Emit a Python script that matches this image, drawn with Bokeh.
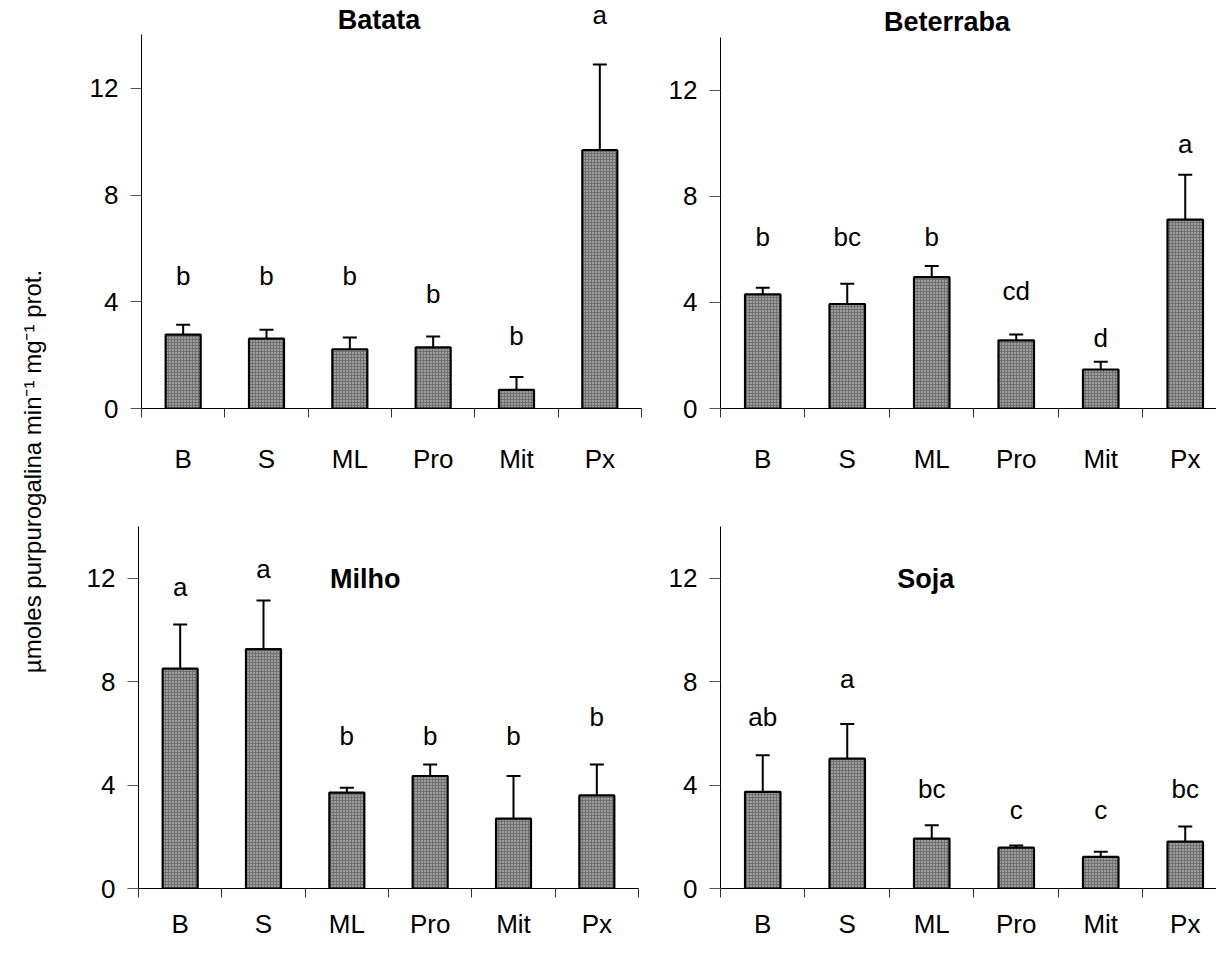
from bokeh.plotting import figure
from bokeh.models import (ColumnDataSource, Range1d, FixedTicker, Whisker, TeeHead, Label)
from bokeh.layouts import row, column
from bokeh.core.properties import value
from bokeh.embed import file_html
from bokeh.resources import INLINE

# ---------------- data ----------------
categories = ["B", "S", "ML", "Pro", "Mit", "Px"]
y_ticks = [0, 4, 8, 12]
y_label = "\u00b5moles purpurogalina min\u207b\u00b9 mg\u207b\u00b9 prot."

batata_mean = [2.77, 2.62, 2.22, 2.29, 0.70, 9.68]
batata_err = [0.37, 0.33, 0.44, 0.41, 0.48, 3.21]
batata_letters = ["b", "b", "b", "b", "b", "a"]
batata_letter_y = [4.95, 4.95, 4.95, 4.28, 2.73, 14.73]

beterraba_mean = [4.30, 3.94, 4.95, 2.57, 1.47, 7.12]
beterraba_err = [0.25, 0.76, 0.42, 0.22, 0.29, 1.69]
beterraba_letters = ["b", "bc", "b", "cd", "d", "a"]
beterraba_letter_y = [6.46, 6.46, 6.46, 4.44, 2.64, 9.98]

milho_mean = [8.50, 9.26, 3.71, 4.35, 2.70, 3.60]
milho_err = [1.71, 1.88, 0.19, 0.45, 1.65, 1.20]
milho_letters = ["a", "a", "b", "b", "b", "b"]
milho_letter_y = [11.66, 12.37, 5.89, 5.89, 5.89, 6.64]

soja_mean = [3.74, 5.02, 1.93, 1.58, 1.22, 1.81]
soja_err = [1.41, 1.34, 0.52, 0.08, 0.20, 0.59]
soja_letters = ["ab", "a", "bc", "c", "c", "bc"]
soja_letter_y = [6.63, 8.10, 3.84, 3.03, 3.03, 3.84]

FONT = "Liberation Sans"
TICK_SIZE = "26px"


def panel(title, means, errs, letters, letter_y, title_pos, width, height,
          borders, x_end, y_end, label_standoff):
    left, right, top, bottom = borders
    p = figure(width=width, height=height,
               x_range=Range1d(0, x_end), y_range=Range1d(0, y_end),
               output_backend="svg", toolbar_location=None,
               min_border_left=left, min_border_right=right,
               min_border_top=top, min_border_bottom=bottom)
    p.grid.visible = False
    p.outline_line_color = None
    p.background_fill_color = "white"
    p.border_fill_color = "white"

    xs = [i + 0.5 for i in range(len(categories))]
    src = ColumnDataSource(dict(
        x=xs, top=means,
        upper=[m + e for m, e in zip(means, errs)],
        letter=letters, ly=letter_y))

    w = Whisker(base="x", lower="top", upper="upper", source=src,
                lower_head=None,
                upper_head=TeeHead(size=14, line_width=2, line_color="black"),
                line_width=2, line_color="black")
    p.add_layout(w)

    p.vbar(x="x", top="top", bottom=0, width=0.42, source=src,
           fill_color="#707070", line_color="black", line_width=2.2,
           hatch_pattern="dot", hatch_color="#e0e0e0", hatch_scale=3,
           hatch_weight=1)

    p.text(x="x", y="ly", text="letter", source=src,
           text_align="center", text_baseline="middle",
           text_font=value(FONT), text_font_size=TICK_SIZE, text_color="black")

    p.add_layout(Label(x=title_pos[0], y=title_pos[1], text=title,
                       text_align="center", text_baseline="middle",
                       text_font=FONT, text_font_style="bold",
                       text_font_size="27px", text_color="black"))

    # y axis
    ya = p.yaxis[0]
    ya.ticker = FixedTicker(ticks=y_ticks)
    ya.bounds = (0, 14)
    ya.axis_line_color = "black"
    ya.axis_line_width = 1
    ya.major_tick_out = 11
    ya.major_tick_in = 0
    ya.major_tick_line_color = "#555555"
    ya.minor_tick_line_color = None
    ya.major_label_standoff = 12
    ya.major_label_text_font = FONT
    ya.major_label_text_font_size = TICK_SIZE
    ya.major_label_text_color = "black"

    # x axis: labels at category centres, ticks at category boundaries
    xa = p.xaxis[0]
    xa.ticker = FixedTicker(ticks=xs, minor_ticks=list(range(len(categories) + 1)))
    xa.major_label_overrides = {x: c for x, c in zip(xs, categories)}
    xa.axis_line_color = "black"
    xa.axis_line_width = 1
    xa.major_tick_out = 0
    xa.major_tick_in = 0
    xa.minor_tick_out = 9
    xa.minor_tick_in = 0
    xa.minor_tick_line_color = "#333333"
    xa.major_label_standoff = label_standoff
    xa.major_label_text_font = FONT
    xa.major_label_text_font_size = TICK_SIZE
    xa.major_label_text_color = "black"
    return p


# row 1 (height 476), row 2 (height 465); label column 60 px wide
tl = panel("Batata", batata_mean, batata_err, batata_letters, batata_letter_y,
           (2.85, 14.55), 605, 476, (81, 24, 0, 62), 6, 15.29, 26)
tr = panel("Beterraba", beterraba_mean, beterraba_err, beterraba_letters,
           beterraba_letter_y, (2.68, 14.57), 551, 476, (53, 0, 0, 57),
           5.87, 15.38, 26)
bl = panel("Milho", milho_mean, milho_err, milho_letters, milho_letter_y,
           (2.72, 11.96), 605, 465, (78, 27, 50, 42), 6, 14, 11)
br = panel("Soja", soja_mean, soja_err, soja_letters, soja_letter_y,
           (2.43, 11.96), 551, 465, (55, 0, 50, 42), 5.87, 14, 11)

lab = figure(width=60, height=941, x_range=Range1d(0, 60), y_range=Range1d(0, 941),
             x_axis_type=None, y_axis_type=None, output_backend="svg",
             toolbar_location=None, min_border=0)
lab.grid.visible = False
lab.outline_line_color = None
lab.add_layout(Label(x=32, y=941 - 471, text=y_label, angle=90, angle_units="deg",
                     text_align="center", text_baseline="middle",
                     text_font=FONT, text_font_size="24px", text_color="black"))

layout = row(lab, column(row(tl, tr), row(bl, br)))

open("out.html", "w").write(file_html(layout, INLINE))
